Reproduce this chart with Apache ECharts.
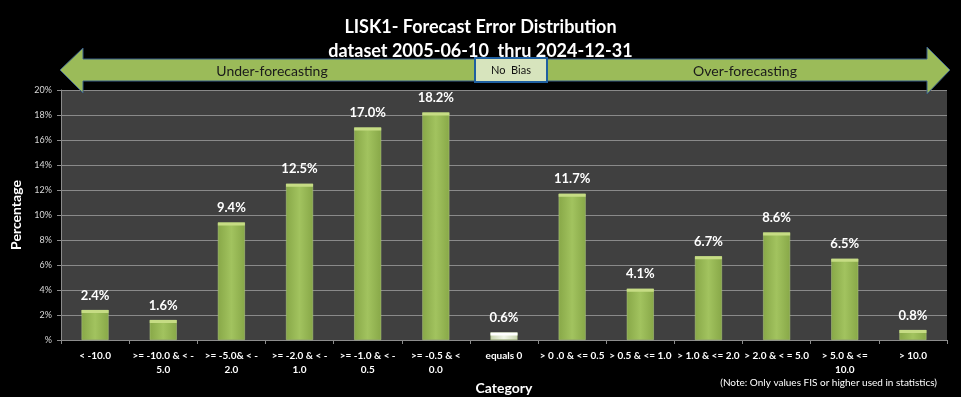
<!DOCTYPE html>
<html>
<head>
<meta charset="utf-8">
<script src="https://cdn.jsdelivr.net/npm/echarts@6/dist/echarts.min.js"></script>
<style>
  html, body { margin: 0; padding: 0; background: #000; }
  #chart { width: 961px; height: 397px; }
</style>
</head>
<body>
<div id="chart"></div>
<script>
const categories = [
  '< -10.0', '>= -10.0 & < -\n5.0', '>= -5.0& < -\n2.0', '>= -2.0 & < -\n1.0',
  '>= -1.0 & < -\n0.5', '>= -0.5 & <\n0.0', 'equals 0', '> 0 .0 & <= 0.5',
  '> 0.5 & <= 1.0', '> 1.0 & <= 2.0', '> 2.0 & < = 5.0', '> 5.0 & <=\n10.0', '> 10.0'
];
const percentages = [2.4, 1.6, 9.4, 12.5, 17.0, 18.2, 0.6, 11.7, 4.1, 6.7, 8.6, 6.5, 0.8];
const zeroIndex = 6;

const font = 'Lato, "Open Sans", sans-serif';

const greenBar = new echarts.graphic.LinearGradient(0, 0, 1, 0, [
  { offset: 0, color: '#88a848' },
  { offset: 0.5, color: '#a2c35f' },
  { offset: 1, color: '#88a848' }
]);
const paleBar = new echarts.graphic.LinearGradient(0, 0, 1, 0, [
  { offset: 0, color: '#c9d6b0' },
  { offset: 0.5, color: '#f2f6ea' },
  { offset: 1, color: '#c9d6b0' }
]);

const chart = echarts.init(document.getElementById('chart'));

const option = {
  backgroundColor: '#000',
  animation: false,
  title: {
    text: 'LISK1- Forecast Error Distribution\ndataset 2005-06-10  thru 2024-12-31',
    left: 'center',
    top: 10,
    textStyle: {
      fontFamily: font,
      fontSize: 18,
      fontWeight: 'bold',
      color: '#fff',
      lineHeight: 24
    }
  },
  grid: {
    left: 61,
    right: 14,
    top: 90,
    bottom: 57,
    outerBoundsMode: 'none',
    show: true,
    backgroundColor: '#404040',
    borderWidth: 0
  },
  xAxis: {
    type: 'category',
    data: categories,
    name: 'Category',
    nameLocation: 'middle',
    nameGap: 36,
    nameTextStyle: { fontFamily: font, fontSize: 14, fontWeight: 'bold', color: '#fff' },
    axisLine: { lineStyle: { color: '#8c8c8c' } },
    axisTick: { show: true, length: 4, lineStyle: { color: '#8c8c8c' } },
    axisLabel: {
      interval: 0,
      fontFamily: font,
      fontSize: 10,
      fontWeight: 'bold',
      color: '#fff',
      lineHeight: 14,
      margin: 9
    }
  },
  yAxis: {
    type: 'value',
    min: 0,
    max: 20,
    interval: 2,
    name: 'Percentage',
    nameLocation: 'middle',
    nameGap: 37,
    nameTextStyle: { fontFamily: font, fontSize: 14, fontWeight: 'bold', color: '#fff' },
    axisLine: { show: true, lineStyle: { color: '#8c8c8c' } },
    axisTick: { show: true, length: 4, lineStyle: { color: '#8c8c8c' } },
    splitLine: { lineStyle: { color: '#8a8a8a', width: 1 } },
    axisLabel: {
      fontFamily: font,
      fontSize: 9,
      color: '#d9d9d9',
      margin: 9,
      formatter: v => (v === 0 ? '%' : v + '%')
    }
  },
  series: [
    {
      type: 'bar',
      barWidth: 27,
      data: percentages.map((v, i) => ({
        value: v,
        itemStyle: { color: i === zeroIndex ? paleBar : greenBar }
      })),
      itemStyle: { borderColor: '#b5cc85', borderWidth: 0.5 },
      label: {
        show: true,
        position: 'top',
        distance: 8,
        fontFamily: font,
        fontSize: 13,
        fontWeight: 'bold',
        color: '#fff',
        formatter: p => p.value.toFixed(1) + '%'
      }
    },
    {
      // lighter bevel strip at each bar top
      type: 'pictorialBar',
      symbol: 'rect',
      symbolPosition: 'end',
      symbolSize: [27, 3],
      symbolOffset: [0, 0],
      z: 3,
      silent: true,
      data: percentages.map((v, i) => ({
        value: v,
        itemStyle: { color: i === zeroIndex ? '#ffffff' : '#c6dc84' }
      }))
    }
  ],
  graphic: [
    {
      type: 'polygon',
      z: 100,
      shape: {
        points: [
          [60, 70], [83, 48], [83, 59], [927, 59], [927, 47],
          [950, 70], [927, 94], [927, 81], [83, 81], [83, 93]
        ]
      },
      style: { fill: '#9bbb59', stroke: '#3b5f8a', lineWidth: 1 }
    },
    {
      type: 'rect',
      z: 101,
      shape: { x: 475, y: 58, width: 72, height: 24 },
      style: { fill: '#d7e4bd', stroke: '#1f5fa0', lineWidth: 2 }
    },
    {
      type: 'text',
      z: 102,
      style: {
        x: 511, y: 70, text: 'No  Bias', align: 'center', verticalAlign: 'middle',
        font: '11px ' + font, fill: '#111'
      }
    },
    {
      type: 'text',
      z: 102,
      style: {
        x: 272, y: 71, text: 'Under-forecasting', align: 'center', verticalAlign: 'middle',
        font: '14px ' + font, fill: '#1a1a1a'
      }
    },
    {
      type: 'text',
      z: 102,
      style: {
        x: 745, y: 71, text: 'Over-forecasting', align: 'center', verticalAlign: 'middle',
        font: '14px ' + font, fill: '#1a1a1a'
      }
    },
    {
      type: 'text',
      z: 102,
      style: {
        x: 937, y: 383, text: '(Note: Only values FIS or higher used in statistics)',
        align: 'right', verticalAlign: 'middle',
        font: '10px ' + font, fill: '#fff'
      }
    }
  ]
};

chart.setOption(option);
window.addEventListener('resize', chart.resize);
</script>
</body>
</html>
